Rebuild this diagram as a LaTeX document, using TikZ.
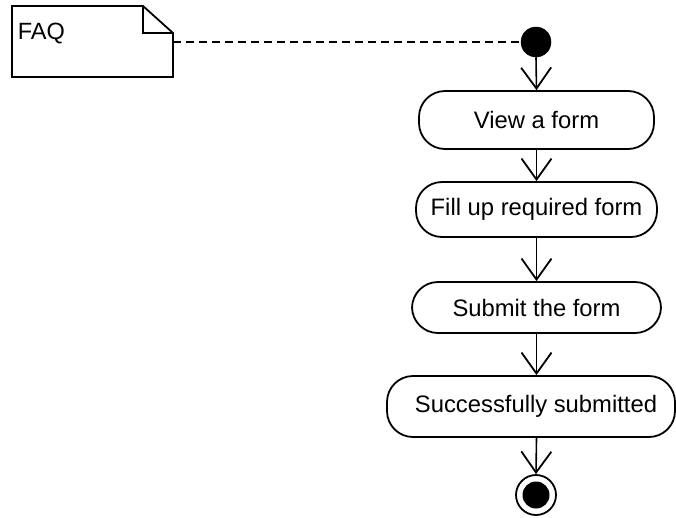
\documentclass[tikz,border=0pt]{standalone}
\usepackage{fontspec}
\setmainfont{Liberation Sans}
\usetikzlibrary{arrows.meta}
\begin{document}
\begin{tikzpicture}[x=1pt,y=-1pt,
  line width=1.8pt,
  act/.style={draw, rounded corners=26pt, minimum height=#1, inner sep=0pt, font=\fontsize{23.8}{26}\selectfont},
  flow/.style={-{Straight Barb[length=21pt,width=30pt,line width=1.8pt]}, line width=1.6pt},
  txt/.style={font=\fontsize{23.5}{26}\selectfont, inner sep=0pt}
]
\useasboundingbox (0,0) rectangle (676,517);
% note
\draw[line width=1.8pt] (12,6) -- (143,6) -- (173,33) -- (173,77) -- (12,77) -- cycle;
\draw[line width=1.8pt] (143,6) -- (143,33) -- (173,33);
\node[txt, anchor=base west] (faq) at (17,39) {FAQ};
\coordinate (noteR) at (173,42);
% start
\node[circle, fill=black, draw=black, line width=0.5pt, minimum size=30pt, inner sep=0pt] (start) at (536,42) {};
% activities
\node[act=58pt, minimum width=235pt] (view) at (536.5,120) {\raisebox{-1.5pt}{View a form}};
\node[act=55pt, minimum width=241pt] (fill) at (536.5,209.5) {\raisebox{-1.5pt}{Fill up required form}};
\node[act=51pt, minimum width=249pt] (submit) at (536.5,307.5) {\raisebox{-1.5pt}{Submit the form}};
\node[act=61pt, minimum width=288pt] (succ) at (531,406.5) {\hspace*{10pt}\raisebox{-1.5pt}{Successfully submitted}};
% end
\node[circle, draw=black, line width=1.8pt, minimum size=40pt, inner sep=0pt] (end) at (536,495) {};
\node[circle, fill=black, minimum size=27pt, inner sep=0pt] (endin) at (end.center) {};
% connectors
\draw[dashed, dash pattern=on 8pt off 5pt, line width=1.6pt] (noteR) -- (start.west);
\draw[flow] (start.south) -- (view.north);
\draw[flow] (view.south) -- (fill.north);
\draw[flow] (fill.south) -- (submit.north);
\draw[flow] (submit.south) -- (succ.north -| submit.south);
\draw[flow] (succ.south -| submit.south) -- (end.north);
\end{tikzpicture}
\end{document}
